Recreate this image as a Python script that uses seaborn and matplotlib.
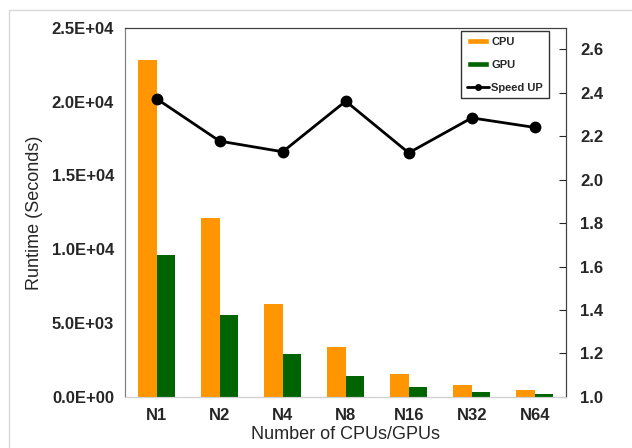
import numpy as np
import pandas as pd
import matplotlib
matplotlib.use("Agg")
import matplotlib.pyplot as plt
import seaborn as sns
from matplotlib.patches import Patch, Rectangle
from matplotlib.lines import Line2D
from matplotlib.ticker import FuncFormatter

# values
nodes = ["N1", "N2", "N4", "N8", "N16", "N32", "N64"]
cpu_time = [22830, 12130, 6280, 3370, 1540, 820, 480]
gpu_time = [9600, 5560, 2910, 1400, 700, 350, 200]
speed_up = [2.373, 2.178, 2.129, 2.362, 2.124, 2.285, 2.241]

sns.set_style("white")
plt.rcParams['font.family'] = ['Liberation Sans', 'DejaVu Sans']

df = pd.DataFrame({
    "node": nodes * 2,
    "time": cpu_time + gpu_time,
    "kind": ["CPU"] * len(nodes) + ["GPU"] * len(nodes),
})

fig = plt.figure(figsize=(6.32, 4.48), dpi=100)
ax = fig.add_axes([0.198, 0.114, 0.698, 0.824])

colors = {"CPU": "#FF9500", "GPU": "#006400"}
sns.barplot(data=df, x="node", y="time", hue="kind", palette=colors,
            width=0.58, gap=0, ax=ax, legend=False, saturation=1, linewidth=0)

ax.set_ylim(0, 25000)
ax.set_yticks(np.arange(0, 25001, 5000))
ax.yaxis.set_major_formatter(FuncFormatter(lambda v, p: f"{v:.1E}"))
ax.set_xlim(-0.5, len(nodes) - 0.5)
ax.set_ylabel("Runtime (Seconds)", fontsize=13, labelpad=6)
ax.set_xlabel("Number of CPUs/GPUs", fontsize=13, labelpad=2)
ax.tick_params(axis="both", length=0, labelsize=12, pad=8)
for lab in ax.get_xticklabels() + ax.get_yticklabels():
    lab.set_fontweight("bold")

ax2 = ax.twinx()
sns.pointplot(x=nodes, y=speed_up, color="black", markers="o",
              linestyles="-", ax=ax2, markersize=7, linewidth=2)
ax2.set_ylim(1.0, 2.7)
ax2.set_yticks(np.arange(1.0, 2.61, 0.2))
ax2.yaxis.set_major_formatter(FuncFormatter(lambda v, p: f"{v:.1f}"))
ax2.tick_params(axis="y", direction="in", length=5, labelsize=12, pad=10)
for lab in ax2.get_yticklabels():
    lab.set_fontweight("bold")
ax2.set_xlim(-0.5, len(nodes) - 0.5)

for a in (ax, ax2):
    a.spines["top"].set_color("#404040")
    a.spines["right"].set_color("#404040")
    a.spines["left"].set_color("#808080")
    a.spines["bottom"].set_color("#d0d0d0")

handles = [
    Patch(facecolor=colors["CPU"], label="CPU"),
    Patch(facecolor=colors["GPU"], label="GPU"),
    Line2D([0], [0], color="black", marker="o", markersize=4, lw=2, label="Speed UP"),
]
leg = ax2.legend(handles=handles, loc="upper right", bbox_to_anchor=(0.96, 0.99),
                 fontsize=8, frameon=True, fancybox=False, handlelength=2.0,
                 handleheight=0.5, labelspacing=1.15, borderpad=0.5, handletextpad=0.2,
                 borderaxespad=0)
leg.get_frame().set_edgecolor("black")
leg.get_frame().set_linewidth(1)
for t in leg.get_texts():
    t.set_fontweight("bold")

# light outer frame
fig.patches.append(Rectangle((0.014, -0.1), 1.2, 1.078, transform=fig.transFigure,
                             fill=False, edgecolor="#d8d8d8", lw=1))

fig.savefig("out.png", dpi=100)
